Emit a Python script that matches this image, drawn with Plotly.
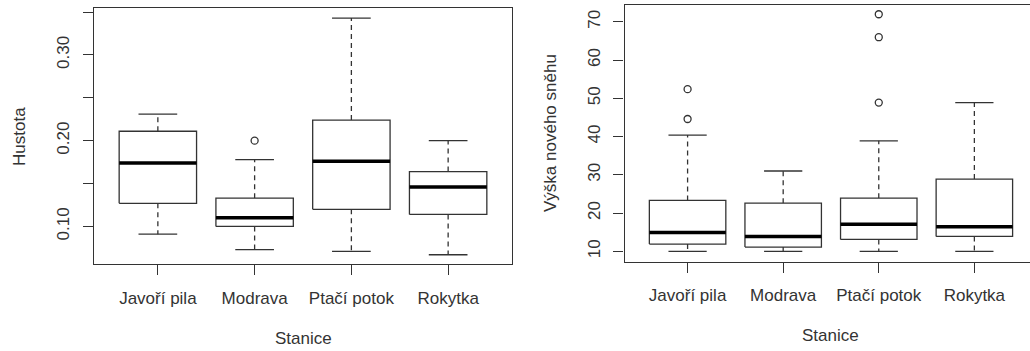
import plotly.graph_objects as go

W, H = 1030, 351

categories = ["Javoří pila", "Modrava", "Ptačí potok", "Rokytka"]

# Left panel: Hustota
dens_low = [0.091, 0.073, 0.071, 0.067]
dens_q1 = [0.127, 0.100, 0.120, 0.114]
dens_med = [0.174, 0.110, 0.176, 0.146]
dens_q3 = [0.211, 0.133, 0.224, 0.164]
dens_high = [0.231, 0.178, 0.343, 0.200]
dens_out = [[], [0.200], [], []]

# Right panel: Výška nového sněhu
snow_low = [10, 10, 10, 10]
snow_q1 = [11.9, 11.1, 13.1, 13.9]
snow_med = [14.9, 13.9, 17.1, 16.4]
snow_q3 = [23.3, 22.6, 23.9, 28.9]
snow_high = [40.4, 31.0, 38.9, 48.9]
snow_out = [[52.4, 44.6], [], [72.0, 66.0, 48.9], []]

LC = "#333333"
TXT = "#333333"
FONT = "Liberation Sans, Arial, sans-serif"
BOXW = 0.8
CAPW = 0.4

fig = go.Figure()


def add_boxes(low, q1, med, q3, high, outs, xa, ya):
    for i, _ in enumerate(categories):
        x = i + 1
        hx = BOXW / 2
        cx = CAPW / 2
        # whiskers dashed
        fig.add_trace(go.Scatter(x=[x, x, None, x, x], y=[q3[i], high[i], None, q1[i], low[i]],
                                 mode="lines", line=dict(color=LC, width=1.3, dash="5px,4px"),
                                 xaxis=xa, yaxis=ya, showlegend=False, hoverinfo="skip"))
        # caps
        fig.add_trace(go.Scatter(x=[x - cx, x + cx, None, x - cx, x + cx],
                                 y=[high[i], high[i], None, low[i], low[i]],
                                 mode="lines", line=dict(color=LC, width=1.3),
                                 xaxis=xa, yaxis=ya, showlegend=False, hoverinfo="skip"))
        # box
        fig.add_trace(go.Scatter(x=[x - hx, x + hx, x + hx, x - hx, x - hx],
                                 y=[q1[i], q1[i], q3[i], q3[i], q1[i]],
                                 mode="lines", fill="toself", fillcolor="white",
                                 line=dict(color=LC, width=1.3),
                                 xaxis=xa, yaxis=ya, showlegend=False, hoverinfo="skip"))
        # median
        fig.add_trace(go.Scatter(x=[x - hx, x + hx], y=[med[i], med[i]],
                                 mode="lines", line=dict(color="black", width=3.5),
                                 xaxis=xa, yaxis=ya, showlegend=False, hoverinfo="skip"))
        if outs[i]:
            fig.add_trace(go.Scatter(x=[x] * len(outs[i]), y=outs[i], mode="markers",
                                     marker=dict(symbol="circle-open", size=7, color=LC,
                                                 line=dict(width=1.3, color=LC)),
                                     xaxis=xa, yaxis=ya, showlegend=False, hoverinfo="skip"))


add_boxes(dens_low, dens_q1, dens_med, dens_q3, dens_high, dens_out, "x", "y")
add_boxes(snow_low, snow_q1, snow_med, snow_q3, snow_high, snow_out, "x2", "y2")

axfont = dict(family=FONT, size=17, color=TXT)
common_x = dict(tickmode="array", tickvals=[1, 2, 3, 4], ticktext=categories,
                ticks="outside", ticklen=10, tickwidth=1.3, tickcolor=LC,
                showline=True, linecolor=LC, linewidth=1.3, showgrid=False,
                zeroline=False, tickfont=axfont, ticklabelstandoff=8, fixedrange=True)
common_y = dict(ticks="outside", ticklen=10, tickwidth=1.3, tickcolor=LC,
                showline=True, linecolor=LC, linewidth=1.3, showgrid=False,
                zeroline=False, tickfont=axfont, tickangle=-90, fixedrange=True,
                ticklabelstandoff=7)

fig.update_layout(
    width=W, height=H,
    margin=dict(l=0, r=0, t=0, b=0),
    paper_bgcolor="white", plot_bgcolor="white",
    font=dict(family=FONT, color=TXT, size=17),
    xaxis=dict(domain=[94 / W, 512 / W], range=[0.34, 4.66], mirror=True, anchor="y", **common_x),
    yaxis=dict(domain=[1 - 264 / H, 1 - 8 / H], range=[0.0562, 0.3547], mirror=True, anchor="x",
               tickvals=[0.10, 0.15, 0.20, 0.25, 0.30, 0.35],
               ticktext=["0.10", "", "0.20", "", "0.30", ""], **common_y),
    xaxis2=dict(domain=[624.5 / W, 1.0], range=[0.34, 4.582], mirror=True, anchor="y2", **common_x),
    yaxis2=dict(domain=[1 - 261.7 / H, 1 - 4.7 / H], range=[7.28, 74.5], mirror=False, anchor="x2",
                tickvals=[10, 20, 30, 40, 50, 60, 70], **common_y),
    annotations=[
        dict(text="Hustota", x=19 / W, y=1 - 137 / H, xref="paper", yref="paper",
             textangle=-90, showarrow=False, font=axfont, xanchor="center", yanchor="middle"),
        dict(text="Stanice", x=303 / W, y=1 - 338 / H, xref="paper", yref="paper",
             showarrow=False, font=axfont, xanchor="center", yanchor="middle"),
        dict(text="Výška nového sněhu", x=550 / W, y=1 - 133 / H, xref="paper", yref="paper",
             textangle=-90, showarrow=False, font=axfont, xanchor="center", yanchor="middle"),
        dict(text="Stanice", x=830.5 / W, y=1 - 335 / H, xref="paper", yref="paper",
             showarrow=False, font=axfont, xanchor="center", yanchor="middle"),
    ],
)

fig.write_html("out.html", config={"displayModeBar": False},
               post_script="document.body.style.margin='0px';document.body.style.overflow='hidden';")
